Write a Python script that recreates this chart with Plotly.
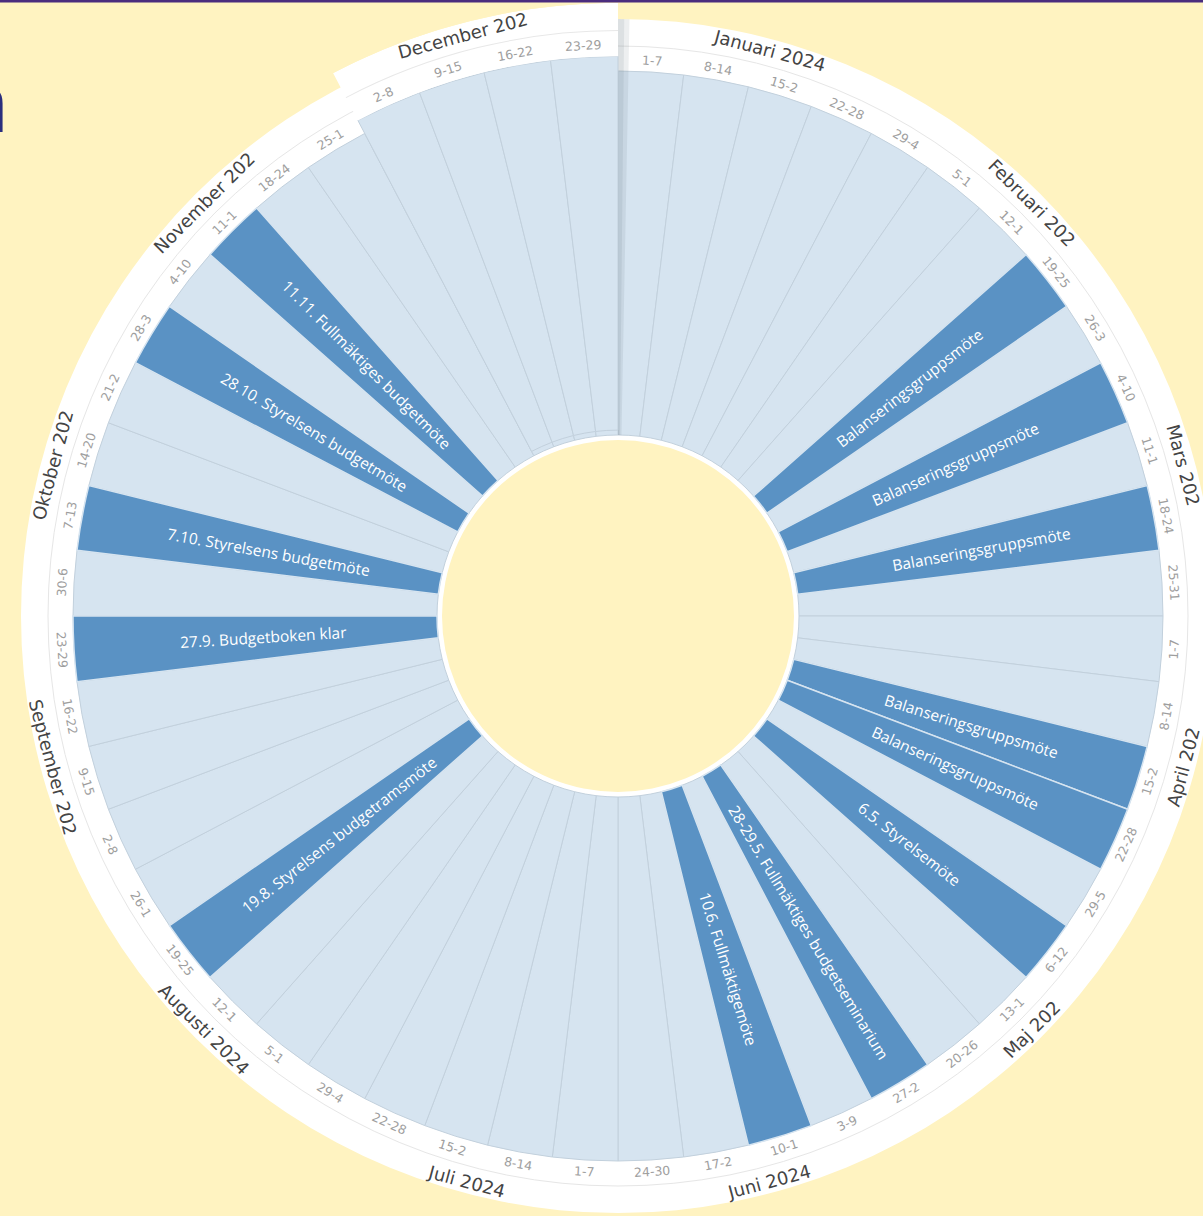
import math
import plotly.graph_objects as go

# ---------------- data ----------------
week_labels = ["1-7", "8-14", "15-2", "22-28", "29-4",
               "5-1", "12-1", "19-25", "26-3",
               "4-10", "11-1", "18-24", "25-31",
               "1-7", "8-14", "15-2", "22-28", "29-5",
               "6-12", "13-1", "20-26", "27-2",
               "3-9", "10-1", "17-2", "24-30",
               "1-7", "8-14", "15-2", "22-28", "29-4",
               "5-1", "12-1", "19-25", "26-1",
               "2-8", "9-15", "16-22", "23-29",
               "30-6", "7-13", "14-20", "21-2", "28-3",
               "4-10", "11-1", "18-24", "25-1",
               "2-8", "9-15", "16-22", "23-29"]
month_labels = ["Januari 2024", "Februari 202", "Mars 202", "April 202", "Maj 202",
                "Juni 2024", "Juli 2024", "Augusti 2024", "September 202",
                "Oktober 202", "November 202", "December 202"]
month_first_week = [0, 5, 9, 13, 18, 22, 26, 31, 35, 39, 44, 48]
event_weeks = [7, 9, 11, 15, 16, 18, 21, 23, 33, 38, 40, 43, 45]
event_texts = ["Balanseringsgruppsmöte", "Balanseringsgruppsmöte", "Balanseringsgruppsmöte",
               "Balanseringsgruppsmöte", "Balanseringsgruppsmöte", "6.5. Styrelsemöte",
               "28-29.5. Fullmäktiges budgetseminarium", "10.6. Fullmäktigemöte",
               "19.8. Styrelsens budgetramsmöte", "27.9. Budgetboken klar",
               "7.10. Styrelsens budgetmöte", "28.10. Styrelsens budgetmöte",
               "11.11. Fullmäktiges budgetmöte"]
highlight_month = 11   # December is drawn popped out

# ---------------- geometry / style ----------------
W, H = 1240, 1240
CX, CY = 618, 616
R_OUT, R_HOLE, R_BAR0, R_BAR1 = 597, 176, 181, 545
R_SEP, R_WEEK_LBL, R_MONTH_LBL = 570, 557, 585
R_EVT_RIGHT, R_EVT_LEFT = 370, 355
POP = 1.027

BG = "#fff3c1"
LIGHT = "#d6e4f0"
DARK = "#5a92c4"
SEPC = "#c2d0dc"

NW = len(week_labels)
step = 360.0 / NW
theta_w = [(i + 0.5) * step for i in range(NW)]
dec_weeks = list(range(month_first_week[highlight_month], NW))

fig = go.Figure()

# main wheel
fig.add_trace(go.Barpolar(theta=theta_w, r=[R_BAR1 - R_BAR0] * NW, base=[R_BAR0] * NW,
                          width=[step] * NW, marker=dict(color=LIGHT, line=dict(color=SEPC, width=1)),
                          subplot="polar", hoverinfo="skip", showlegend=False))
fig.add_trace(go.Barpolar(theta=[theta_w[i] for i in event_weeks],
                          r=[R_BAR1 - R_BAR0] * len(event_weeks), base=[R_BAR0] * len(event_weeks),
                          width=[step] * len(event_weeks),
                          marker=dict(color=DARK, line=dict(color=LIGHT, width=1.5)),
                          subplot="polar", hoverinfo="skip", showlegend=False))
# shadow of the popped-out month
fig.add_trace(go.Barpolar(theta=[0.55, 0.3], r=[R_OUT - R_BAR0] * 2, base=[R_BAR0] * 2,
                          width=[1.1, 0.6], marker=dict(color="rgba(80,95,110,0.10)", line=dict(width=0)),
                          subplot="polar", hoverinfo="skip", showlegend=False))

# popped-out December
fig.add_trace(go.Barpolar(theta=[theta_w[i] for i in dec_weeks], r=[R_BAR1 - R_BAR0] * len(dec_weeks),
                          base=[R_BAR0] * len(dec_weeks), width=[step] * len(dec_weeks),
                          marker=dict(color=LIGHT, line=dict(color=SEPC, width=1)),
                          subplot="polar2", hoverinfo="skip", showlegend=False))
dec_c = (month_first_week[highlight_month] + NW) / 2 * step
dec_w = (NW - month_first_week[highlight_month]) * step
fig.add_trace(go.Barpolar(theta=[dec_c, dec_c], r=[R_OUT - R_BAR1, 1.0], base=[R_BAR1, R_SEP - 0.5],
                          width=[dec_w, dec_w], marker=dict(color=["white", "#e8e8e8"], line=dict(width=0)),
                          subplot="polar2", hoverinfo="skip", showlegend=False))

# helper cartesian layer for rotated labels
fig.add_trace(go.Scatter(x=[0], y=[0], mode="markers", marker=dict(opacity=0),
                         hoverinfo="skip", showlegend=False))


def pos(r, th):
    return r * math.sin(math.radians(th)), r * math.cos(math.radians(th))


def tang(th):
    if 90 < th < 270:
        return th - 180
    return th if th <= 180 else th - 360


ann = []
for i, lab in enumerate(week_labels):
    th = theta_w[i]
    s = POP if i in dec_weeks else 1.0
    x, y = pos(R_WEEK_LBL * s, th)
    ann.append(dict(x=x, y=y, text=lab, textangle=tang(th), showarrow=False,
                    font=dict(family="DejaVu Sans", size=12.5, color="#9e9e9e")))
for m, lab in enumerate(month_labels):
    th = (m + 0.5) * 30
    s = POP if m == highlight_month else 1.0
    x, y = pos(R_MONTH_LBL * s, th)
    ann.append(dict(x=x, y=y, text=lab, textangle=tang(th), showarrow=False,
                    font=dict(family="DejaVu Sans", size=18, color="#444444")))
for wk, txt in zip(event_weeks, event_texts):
    th = theta_w[wk]
    if th < 180:
        r, a = R_EVT_RIGHT, th - 90
    else:
        r, a = R_EVT_LEFT, th - 270
    x, y = pos(r, th)
    ann.append(dict(x=x, y=y, text=txt, textangle=a, showarrow=False,
                    font=dict(family="Open Sans", size=15.5, color="white")))
# cut-off heading letter at left edge
ann.append(dict(x=-CX + 11, y=CY - 100, text="<b>n</b>", xanchor="right", yanchor="middle",
                showarrow=False, font=dict(family="Open Sans", size=80, color="#2b2e7e")))


def dom(R):
    return dict(x=[(CX - R) / W, (CX + R) / W], y=[(H - CY - R) / H, (H - CY + R) / H])


ang = dict(direction="clockwise", rotation=90, showticklabels=False, ticks="",
           showline=False, showgrid=False)
fig.update_layout(
    width=W, height=H, margin=dict(l=0, r=0, t=0, b=0),
    paper_bgcolor=BG, plot_bgcolor="rgba(0,0,0,0)",
    polar=dict(domain=dom(R_OUT), hole=R_HOLE / R_OUT, bgcolor="white",
               radialaxis=dict(range=[R_HOLE, R_OUT], showticklabels=False, ticks="", showline=False,
                               tickvals=[R_SEP], showgrid=True, gridcolor="#e6e6e6", gridwidth=1.2),
               angularaxis=ang, barmode="overlay"),
    polar2=dict(domain=dom(R_OUT * POP), hole=R_HOLE / R_OUT, bgcolor="rgba(0,0,0,0)",
                radialaxis=dict(range=[R_HOLE, R_OUT], showticklabels=False, ticks="", showline=False,
                                showgrid=False),
                angularaxis=ang, barmode="overlay"),
    xaxis=dict(range=[-CX, W - CX], domain=[0, 1], visible=False, fixedrange=True),
    yaxis=dict(range=[-(H - CY), CY], domain=[0, 1], visible=False, fixedrange=True),
    annotations=ann,
    shapes=[dict(type="rect", xref="paper", yref="y", x0=0, x1=1, y0=CY - 2.5, y1=CY + 2,
                 fillcolor="#4a2c7e", line=dict(width=0))],
)

fig.write_html("out.html", config={"displayModeBar": False},
               post_script="document.body.style.margin='0';document.body.style.overflow='hidden';"
                           "document.documentElement.style.overflow='hidden';")
